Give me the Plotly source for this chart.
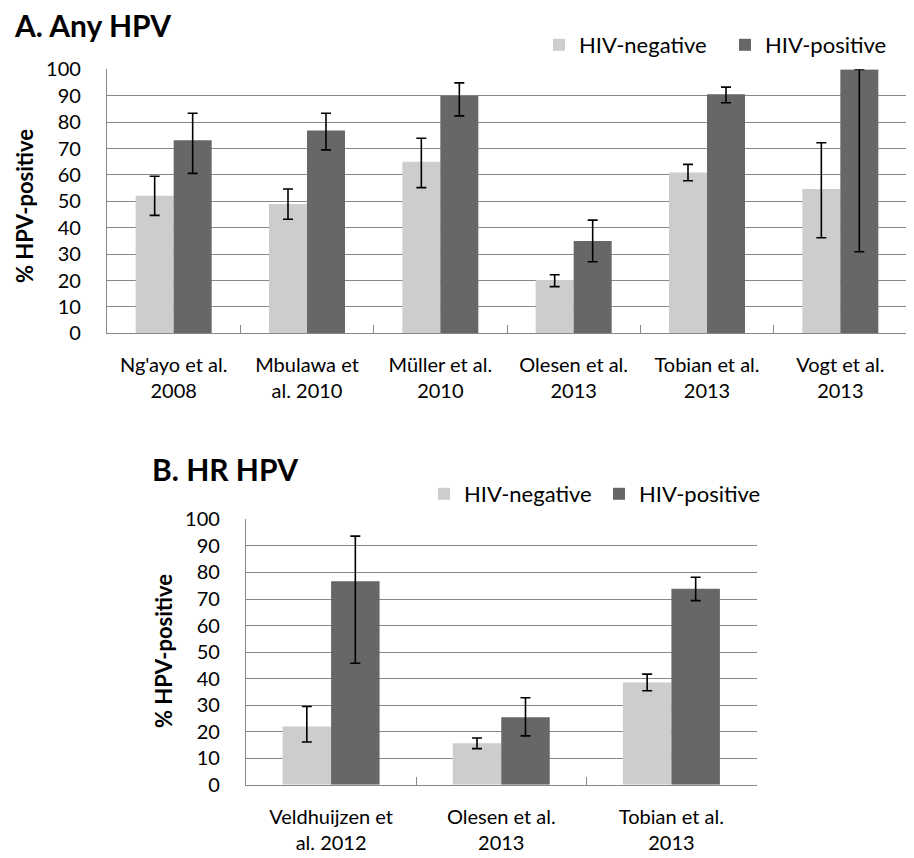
import plotly.graph_objects as go

# ---- Data ----
cats_a = ["Ng'ayo et al.<br>2008", "Mbulawa et<br>al. 2010", "Müller et al.<br>2010",
          "Olesen et al.<br>2013", "Tobian et al.<br>2013", "Vogt et al.<br>2013"]
neg_a = [52.1, 49.0, 65.0, 20.2, 60.9, 54.7]
neg_a_hi = [59.5, 54.7, 73.9, 22.2, 64.0, 72.2]
neg_a_lo = [44.7, 43.2, 55.2, 17.7, 57.8, 36.2]
pos_a = [73.2, 76.9, 90.0, 35.0, 90.6, 100.0]
pos_a_hi = [83.4, 83.4, 94.9, 42.9, 93.3, 100.0]
pos_a_lo = [60.6, 69.5, 82.4, 27.1, 87.4, 30.9]

cats_b = ["Veldhuijzen et<br>al. 2012", "Olesen et al.<br>2013", "Tobian et al.<br>2013"]
neg_b = [21.9, 15.6, 38.5]
neg_b_hi = [29.5, 17.6, 41.7]
neg_b_lo = [16.1, 13.6, 35.4]
pos_b = [76.7, 25.4, 73.9]
pos_b_hi = [93.7, 32.8, 78.2]
pos_b_lo = [45.8, 18.4, 69.4]

y_ticks = list(range(0, 101, 10))

LIGHT = "#cdcdcd"
DARK = "#676767"
GRID = "#888888"
FONT = "Lato"


def err(vals, hi, lo):
    return dict(type="data", symmetric=False,
                array=[h - v for v, h in zip(vals, hi)],
                arrayminus=[v - l for v, l in zip(vals, lo)],
                color="black", thickness=1.6, width=5)


fig = go.Figure()
fig.add_trace(go.Bar(x=cats_a, y=neg_a, name="HIV-negative", marker=dict(color=LIGHT, line_width=0),
                     error_y=err(neg_a, neg_a_hi, neg_a_lo), xaxis="x", yaxis="y", legend="legend"))
fig.add_trace(go.Bar(x=cats_a, y=pos_a, name="HIV-positive", marker=dict(color=DARK, line_width=0),
                     error_y=err(pos_a, pos_a_hi, pos_a_lo), xaxis="x", yaxis="y", legend="legend"))
fig.add_trace(go.Bar(x=cats_b, y=neg_b, name="HIV-negative", marker=dict(color=LIGHT, line_width=0),
                     error_y=err(neg_b, neg_b_hi, neg_b_lo), xaxis="x2", yaxis="y2", legend="legend2"))
fig.add_trace(go.Bar(x=cats_b, y=pos_b, name="HIV-positive", marker=dict(color=DARK, line_width=0),
                     error_y=err(pos_b, pos_b_hi, pos_b_lo), xaxis="x2", yaxis="y2", legend="legend2"))

# page body has an 8px margin; the figure fills the rest of the 914x858 window
OFF = 8
W, H = 914 - OFF, 858 - OFF

def py(p):
    return 1 - (p - OFF) / H

def px_(p):
    return (p - OFF) / W

tickfont = dict(family=FONT, size=20, color="black")
xcommon = dict(type="category", tickson="boundaries", ticks="inside", ticklen=8, tickcolor=GRID,
               tickwidth=1.3, showline=True, linecolor=GRID, linewidth=1.3, showgrid=False,
               tickfont=tickfont, automargin=False, ticklabelstandoff=14)
ycommon = dict(range=[0, 100.05], tickvals=y_ticks, showline=True, linecolor=GRID, linewidth=1.3,
               showgrid=True, gridcolor=GRID, gridwidth=1.3, zeroline=False, ticks="",
               ticklabelstandoff=21, tickfont=tickfont, automargin=False)

fig.update_layout(
    template="none",
    width=W, height=H, margin=dict(l=0, r=0, t=0, b=0, autoexpand=False),
    paper_bgcolor="white", plot_bgcolor="white",
    barmode="group", bargap=0.43, bargroupgap=0,
    font=dict(family=FONT, color="black"),
    xaxis=dict(domain=[px_(107), px_(907)], anchor="y", **xcommon),
    yaxis=dict(domain=[py(333.3), py(69.3)], anchor="x", **ycommon),
    xaxis2=dict(domain=[px_(246), px_(756.5)], anchor="y2", **xcommon),
    yaxis2=dict(domain=[py(784.7), py(519.3)], anchor="x2", **ycommon),
    legend=dict(orientation="h", x=px_(539), y=py(24), xanchor="left", yanchor="top",
                font=dict(family=FONT, size=22), entrywidth=141, bgcolor="rgba(0,0,0,0)",
                borderwidth=0),
    legend2=dict(orientation="h", x=px_(424), y=py(473), xanchor="left", yanchor="top",
                 font=dict(family=FONT, size=22), entrywidth=130, bgcolor="rgba(0,0,0,0)",
                 borderwidth=0),
    annotations=[
        dict(text="<b>A. Any HPV</b>", x=px_(12), y=py(25), xref="paper", yref="paper",
             xanchor="left", yanchor="middle", showarrow=False, font=dict(family=FONT, size=30)),
        dict(text="<b>B. HR HPV</b>", x=px_(150), y=py(469), xref="paper", yref="paper",
             xanchor="left", yanchor="middle", showarrow=False, font=dict(family=FONT, size=30)),
        dict(text="<b>% HPV-positive</b>", x=px_(25), y=py(206), xref="paper", yref="paper",
             xanchor="center", yanchor="middle", textangle=-90, showarrow=False,
             font=dict(family=FONT, size=22)),
        dict(text="<b>% HPV-positive</b>", x=px_(163), y=py(651), xref="paper", yref="paper",
             xanchor="center", yanchor="middle", textangle=-90, showarrow=False,
             font=dict(family=FONT, size=22)),
    ],
    showlegend=True,
)

fig.write_html("out.html")
